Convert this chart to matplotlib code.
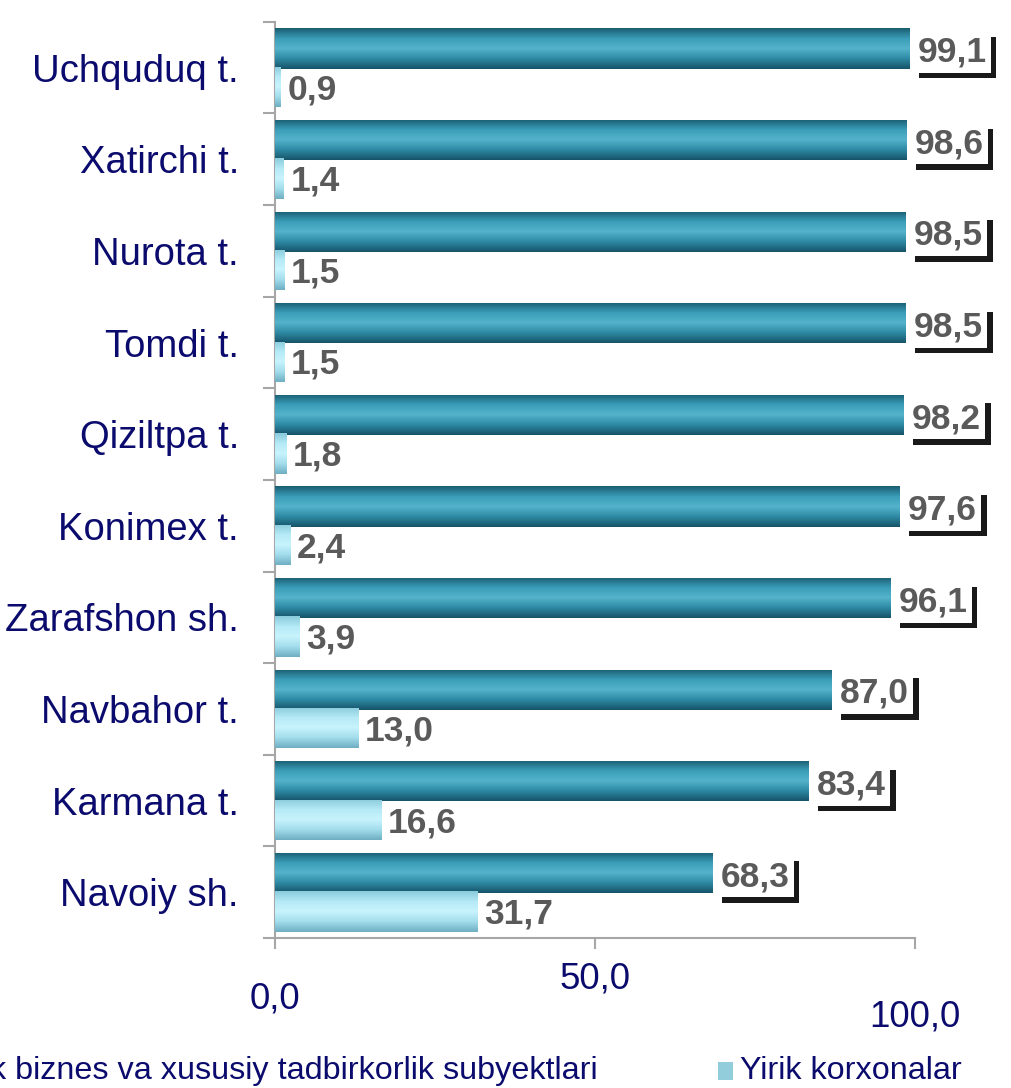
import numpy as np
import matplotlib
matplotlib.use("Agg")
import matplotlib.pyplot as plt
import matplotlib.patheffects as pe
from matplotlib.colors import LinearSegmentedColormap
from matplotlib.patches import Rectangle

plt.rcParams['font.family'] = ['Liberation Sans', 'DejaVu Sans']

# data (top to bottom)
districts = ["Uchquduq t.", "Xatirchi t.", "Nurota t.", "Tomdi t.", "Qiziltpa t.",
             "Konimex t.", "Zarafshon sh.", "Navbahor t.", "Karmana t.", "Navoiy sh."]
small_biz = [99.1, 98.6, 98.5, 98.5, 98.2, 97.6, 96.1, 87.0, 83.4, 68.3]
large_ent = [0.9, 1.4, 1.5, 1.5, 1.8, 2.4, 3.9, 13.0, 16.6, 31.7]
series_names = ["Kichik biznes va xususiy tadbirkorlik subyektlari", "Yirik korxonalar"]
xticks = [0, 50, 100]
xtick_labels = ["0,0", "50,0", "100,0"]

navy = "#0B0B6E"
val_gray = "#5A5A5A"
dark_cmap = LinearSegmentedColormap.from_list("dk", ["#1B5E72", "#3A9DB8", "#55B3CB", "#2E8AA4", "#17546A"])
light_cmap = LinearSegmentedColormap.from_list("lt", ["#8ACBDC", "#B5EAF6", "#C8F3FC", "#A2DDEC", "#6FAFC2"])

fig = plt.figure(figsize=(10.11, 10.88), dpi=100)
ax = fig.add_axes([0.272, 0.1379, 0.633, 0.842])

y = np.arange(len(districts))
h = 0.44
b1 = ax.barh(y - 0.21, small_biz, height=h, color="#2E8CA6", zorder=2)
b2 = ax.barh(y + 0.21, large_ent, height=h, color="#A8E2F0", zorder=2)

# cylinder-like shading
grad = np.linspace(0, 1, 64).reshape(-1, 1)
for bars, cmap in [(b1, dark_cmap), (b2, light_cmap)]:
    for p in bars:
        x0, y0 = p.get_x(), p.get_y()
        im = ax.imshow(grad, cmap=cmap, aspect="auto", zorder=3,
                       extent=(x0, x0 + p.get_width(), y0 + p.get_height(), y0))
        im.set_clip_path(p)

ax.set_xlim(0, 100)
ax.set_ylim(len(districts) - 0.5, -0.5)

# value labels
for yi, v in zip(y, small_biz):
    t = ax.text(v + 1.3, yi - 0.17, f"{v:.1f}".replace(".", ","), va="center", ha="left",
                fontsize=25.5, fontweight="bold", color=val_gray, zorder=5, clip_on=False,
                bbox=dict(boxstyle="square,pad=0.12", fc="white", ec="none"))
    t.get_bbox_patch().set_path_effects([pe.withSimplePatchShadow(offset=(4, -4), shadow_rgbFace="black", alpha=0.9)])
for yi, v in zip(y, large_ent):
    ax.text(v + 1.0, yi + 0.24, f"{v:.1f}".replace(".", ","), va="center", ha="left",
            fontsize=25.5, fontweight="bold", color=val_gray, zorder=5, clip_on=False)

# axes styling
for s in ["top", "right"]:
    ax.spines[s].set_visible(False)
for s in ["left", "bottom"]:
    ax.spines[s].set_color("#A6A6A6")
    ax.spines[s].set_linewidth(1.5)

ax.set_yticks(y)
ax.set_yticklabels(districts, fontsize=27.5, color=navy)
ax.set_yticks(np.arange(-0.5, len(districts), 1), minor=True)
ax.tick_params(axis="y", which="major", length=0, pad=26)
ax.tick_params(axis="y", which="minor", length=9, width=1.5, color="#A6A6A6")

ax.set_xticks(xticks)
ax.set_xticklabels(xtick_labels, fontsize=26.5, color=navy)
ax.tick_params(axis="x", length=8, width=1.5, color="#A6A6A6")
for tk, pad in zip(ax.xaxis.get_major_ticks(), [23, 9, 36]):
    tk.set_pad(pad)

# legend (left part runs off the canvas as in the original)
fig.text(598 / 1011, 1 - 1071 / 1088, series_names[0], ha="right", va="center", fontsize=23.3, color=navy)
fig.patches.append(Rectangle((718 / 1011, 1 - 1080 / 1088), 15 / 1011, 18 / 1088,
                             transform=fig.transFigure, fc="#92CDDC", ec="none"))
fig.text(740 / 1011, 1 - 1071 / 1088, series_names[1], ha="left", va="center", fontsize=23.3, color=navy)

fig.savefig("out.png", dpi=100)
